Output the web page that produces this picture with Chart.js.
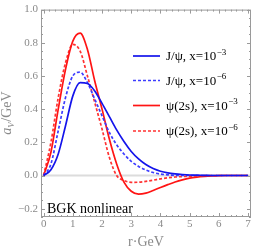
<!DOCTYPE html>
<html>
<head>
<meta charset="utf-8">
<script src="https://cdn.jsdelivr.net/npm/chart.js@4.4.0/dist/chart.umd.min.js"></script>
<style>
  html, body { margin: 0; padding: 0; background: #fff; }
  #wrap { width: 254px; height: 250px; }
</style>
</head>
<body>
<div id="wrap"><canvas id="chart"></canvas></div>
<script>
// radius r in GeV^-1
const rValues = [0, 0.25, 0.5, 0.75, 1, 1.25, 1.5, 1.75, 2, 2.25, 2.5, 2.75, 3, 3.25, 3.5, 3.75, 4, 4.25, 4.5, 4.75, 5, 5.25, 5.5, 5.75, 6, 6.25, 6.5, 6.75, 7];

const jpsiX3 = [0, 0.035, 0.13, 0.3, 0.48, 0.56, 0.555, 0.51, 0.435, 0.355, 0.275, 0.205, 0.145, 0.1, 0.066, 0.042, 0.026, 0.016, 0.01, 0.006, 0.003, 0.002, 0.001, 0, 0, 0, 0, 0, 0];
const jpsiX6 = [0, 0.07, 0.27, 0.47, 0.6, 0.623, 0.56, 0.46, 0.36, 0.26, 0.185, 0.13, 0.085, 0.055, 0.033, 0.018, 0.009, 0.004, 0.001, 0, 0, 0, 0, 0, 0, 0, 0, 0, 0];
const psi2sX3 = [0, 0.14, 0.4, 0.64, 0.81, 0.858, 0.76, 0.57, 0.4, 0.22, 0.07, -0.04, -0.095, -0.112, -0.106, -0.09, -0.072, -0.055, -0.039, -0.026, -0.016, -0.01, -0.006, -0.003, -0.001, 0, 0, 0, 0];
const psi2sX6 = [0, 0.2, 0.47, 0.68, 0.79, 0.75, 0.6, 0.44, 0.28, 0.11, 0.0, -0.03, -0.041, -0.04, -0.035, -0.028, -0.02, -0.014, -0.009, -0.006, -0.004, -0.002, -0.001, 0, 0, 0, 0, 0, 0];

const legendBase = ["J/\u03c8, x=10", "J/\u03c8, x=10", "\u03c8(2s), x=10", "\u03c8(2s), x=10"];
const legendExp = ["\u22123", "\u22126", "\u22123", "\u22126"];

const xTicks = [0, 1, 2, 3, 4, 5, 6, 7];
const yTicks = [-0.2, 0, 0.2, 0.4, 0.6, 0.8, 1.0];

const serif = "'Liberation Serif', 'DejaVu Serif', serif";
const gray = "#8a8a8a";

function series(vals) {
    return vals.map((v, i) => ({ x: rValues[i], y: v }));
}

const styles = [
    { color: "rgb(20,20,235)", dash: [] },
    { color: "rgb(60,60,255)", dash: [3, 2] },
    { color: "rgb(255,20,20)", dash: [] },
    { color: "rgb(255,50,50)", dash: [3, 2] }
];
const allSeries = [jpsiX3, jpsiX6, psi2sX3, psi2sX6];

const framePlugin = {
    id: "frame",
    beforeDatasetsDraw(chart) {
        const { ctx, chartArea: a, scales: { y } } = chart;
        ctx.save();
        ctx.strokeStyle = "#dcdcdc";
        ctx.lineWidth = 2;
        const y0 = y.getPixelForValue(0);
        ctx.beginPath();
        ctx.moveTo(a.left, y0);
        ctx.lineTo(a.right, y0);
        ctx.stroke();
        ctx.restore();
    },
    afterDatasetsDraw(chart) {
        const { ctx, chartArea: a, scales: { x, y } } = chart;
        ctx.save();
        ctx.strokeStyle = "#9a9a9a";
        ctx.lineWidth = 1;
        ctx.strokeRect(a.left + 0.5, a.top + 0.5, a.right - a.left - 1, a.bottom - a.top - 1);

        // ticks pointing inwards, all four sides
        ctx.beginPath();
        for (let v = 0; v <= 7.001; v += 0.2) {
            const px = Math.round(x.getPixelForValue(v)) + 0.5;
            const len = Math.abs(v - Math.round(v)) < 0.01 ? 4 : 2;
            ctx.moveTo(px, a.bottom); ctx.lineTo(px, a.bottom - len);
            ctx.moveTo(px, a.top); ctx.lineTo(px, a.top + len);
        }
        for (let v = -0.25; v <= 1.001; v += 0.05) {
            const py = Math.round(y.getPixelForValue(v)) + 0.5;
            const k = v / 0.2;
            const len = Math.abs(k - Math.round(k)) < 0.01 ? 4 : 2;
            ctx.moveTo(a.left, py); ctx.lineTo(a.left + len, py);
            ctx.moveTo(a.right, py); ctx.lineTo(a.right - len, py);
        }
        ctx.stroke();

        // legend
        const rows = [56, 80.5, 105.5, 131];
        chart.data.datasets.forEach((ds, i) => {
            const ry = rows[i];
            ctx.strokeStyle = ds.borderColor;
            ctx.lineWidth = 1.7;
            ctx.setLineDash(ds.borderDash);
            ctx.beginPath();
            ctx.moveTo(133, ry);
            ctx.lineTo(160, ry);
            ctx.stroke();
            ctx.setLineDash([]);
            ctx.fillStyle = "#000";
            ctx.textBaseline = "alphabetic";
            ctx.textAlign = "left";
            ctx.font = "13px " + serif;
            const base = legendBase[i];
            ctx.fillText(base, 166, ry + 4);
            const w = ctx.measureText(base).width;
            ctx.font = "9px " + serif;
            ctx.fillText(legendExp[i], 166 + w + 0.5, ry - 1.5);
        });

        // inset label
        ctx.fillStyle = "#000";
        ctx.font = "14px " + serif;
        ctx.textAlign = "left";
        ctx.fillText("BGK nonlinear", 47, 213);

        // axis titles
        ctx.fillStyle = gray;
        ctx.font = "14px " + serif;
        ctx.textAlign = "center";
        ctx.fillText("r\u00b7GeV", (a.left + a.right) / 2, 246);

        ctx.translate(11, (a.top + a.bottom) / 2);
        ctx.rotate(-Math.PI / 2);
        ctx.textAlign = "left";
        ctx.font = "italic 14px " + serif;
        const wa = ctx.measureText("a").width;
        ctx.font = "italic 9px " + serif;
        const wv = ctx.measureText("V").width;
        ctx.font = "14px " + serif;
        const wg = ctx.measureText("/GeV").width;
        let sx = -(wa + wv + wg) / 2;
        ctx.font = "italic 14px " + serif;
        ctx.fillText("a", sx, 0);
        sx += wa;
        ctx.font = "italic 9px " + serif;
        ctx.fillText("V", sx, 3);
        sx += wv + 0.5;
        ctx.font = "14px " + serif;
        ctx.fillText("/GeV", sx, 0);
        ctx.restore();
    }
};

new Chart(document.getElementById("chart"), {
    type: "line",
    data: {
        datasets: allSeries.map((vals, i) => ({
            label: legendBase[i] + legendExp[i],
            data: series(vals),
            borderColor: styles[i].color,
            borderDash: styles[i].dash,
            borderWidth: 1.7,
            pointRadius: 0,
            fill: false,
            cubicInterpolationMode: "monotone"
        }))
    },
    options: {
        responsive: true,
        maintainAspectRatio: false,
        animation: false,
        layout: { padding: { top: 5, right: 3, left: 0, bottom: 0 } },
        plugins: { legend: { display: false }, tooltip: { enabled: false } },
        scales: {
            x: {
                type: "linear",
                min: -0.09,
                max: 7.1,
                grid: { display: false, drawTicks: false },
                border: { display: false },
                afterBuildTicks: s => { s.ticks = xTicks.map(v => ({ value: v })); },
                afterFit: s => { s.height = 33; },
                ticks: {
                    padding: 1,
                    color: gray,
                    font: { family: serif, size: 11 },
                    maxRotation: 0,
                    callback: v => String(v)
                }
            },
            y: {
                type: "linear",
                min: -0.25,
                max: 1.0,
                grid: { display: false, drawTicks: false },
                border: { display: false },
                afterBuildTicks: s => { s.ticks = yTicks.map(v => ({ value: v })); },
                afterFit: s => { s.width = 41; },
                ticks: {
                    padding: 3,
                    color: gray,
                    font: { family: serif, size: 11 },
                    callback: v => (v < 0 ? "\u2212" : "") + Math.abs(v).toFixed(1)
                }
            }
        }
    },
    plugins: [framePlugin]
});
</script>
</body>
</html>
